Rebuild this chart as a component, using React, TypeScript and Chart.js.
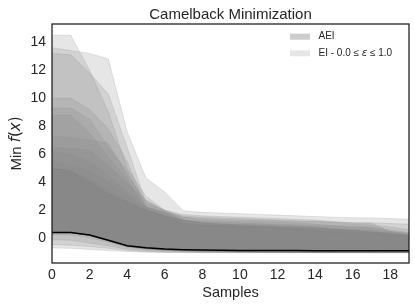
import React, { useEffect, useRef } from "react";
import { Chart, registerables } from "chart.js";

Chart.register(...registerables);

// ---------- data ----------
const samples = [0, 1, 2, 3, 4, 5, 6, 7, 8, 9, 10, 11, 12, 13, 14, 15, 16, 17, 18, 19];
const xTicks = [0, 2, 4, 6, 8, 10, 12, 14, 16, 18];
const yTicks = [0, 2, 4, 6, 8, 10, 12, 14];
const epsilons = ["0.0", "0.1", "0.2", "0.3", "0.4", "0.5", "0.6", "0.7", "0.8", "0.9", "1.0"];

// AEI: best value (black line) and upper envelope
const aeiMin = [0.4, 0.4, 0.23, -0.15, -0.53, -0.68, -0.77, -0.82, -0.85, -0.86, -0.87, -0.87, -0.87, -0.88, -0.9, -0.9, -0.9, -0.9, -0.9, -0.9];
const aeiMax = [5.0, 4.8, 4.0, 3.2, 2.6, 2.0, 1.6, 1.3, 1.1, 1.0, 0.95, 0.9, 0.85, 0.8, 0.75, 0.65, 0.55, 0.45, 0.35, 0.2];

// EI envelopes, one per epsilon
const ei00Max = [14.5, 14.5, 12.0, 9.0, 5.0, 3.0, 2.0, 1.5, 1.4, 1.35, 1.3, 1.3, 1.25, 1.2, 1.2, 1.15, 1.1, 1.1, 1.05, 1.0];
const ei00Min = [0.4, 0.4, 0.23, -0.15, -0.55, -0.72, -0.82, -0.87, -0.9, -0.92, -0.94, -0.95, -0.96, -0.97, -0.98, -1.0, -1.0, -1.0, -1.0, -1.0];
const ei01Max = [13.6, 13.4, 13.2, 12.8, 7.6, 4.3, 3.3, 1.95, 1.85, 1.8, 1.75, 1.7, 1.65, 1.6, 1.55, 1.5, 1.47, 1.45, 1.4, 1.36];
const ei01Min = [0.25, 0.25, 0.05, -0.3, -0.65, -0.8, -0.88, -0.92, -0.95, -0.97, -0.98, -1.0, -1.0, -1.01, -1.02, -1.02, -1.02, -1.03, -1.03, -1.03];
const ei02Max = [13.2, 13.1, 11.8, 10.3, 6.5, 2.5, 2.0, 1.7, 1.6, 1.55, 1.5, 1.45, 1.4, 1.35, 1.3, 1.2, 1.1, 1.07, 0.47, 0.35];
const ei02Min = [0.4, 0.4, 0.22, -0.18, -0.56, -0.73, -0.83, -0.88, -0.91, -0.93, -0.95, -0.96, -0.97, -0.98, -0.99, -1.0, -1.0, -1.01, -1.01, -1.01];
const ei03Max = [10.0, 10.0, 9.2, 7.8, 5.5, 2.2, 1.9, 1.6, 1.5, 1.45, 1.4, 1.35, 1.3, 1.25, 1.2, 1.1, 1.0, 0.95, 0.8, 0.6];
const ei03Min = [0.4, 0.4, 0.2, -0.2, -0.58, -0.75, -0.84, -0.89, -0.92, -0.94, -0.96, -0.97, -0.98, -0.99, -1.0, -1.0, -1.01, -1.01, -1.02, -1.02];
const ei04Max = [9.3, 9.3, 8.5, 6.5, 4.8, 2.2, 1.8, 1.5, 1.3, 1.25, 1.2, 1.2, 1.15, 1.1, 1.0, 0.9, 0.85, 0.8, 0.6, 0.4];
const ei04Min = [0.4, 0.4, 0.23, -0.14, -0.54, -0.7, -0.8, -0.86, -0.89, -0.91, -0.93, -0.94, -0.95, -0.96, -0.97, -0.98, -0.99, -1.0, -1.0, -1.0];
const ei05Max = [8.8, 8.8, 7.5, 5.8, 4.2, 2.0, 1.6, 1.3, 1.2, 1.15, 1.1, 1.05, 1.0, 0.95, 0.9, 0.85, 0.8, 0.75, 0.5, 0.3];
const ei05Min = [-0.1, -0.15, -0.35, -0.55, -0.78, -0.88, -0.94, -0.97, -1.0, -1.01, -1.02, -1.02, -1.03, -1.03, -1.03, -1.03, -1.03, -1.03, -1.03, -1.03];
const ei06Max = [7.3, 7.2, 7.0, 6.8, 4.5, 2.7, 2.0, 1.3, 1.1, 1.05, 1.0, 1.0, 0.95, 0.9, 0.8, 0.7, 0.65, 0.6, 0.45, 0.25];
const ei06Min = [0.4, 0.4, 0.21, -0.2, -0.6, -0.76, -0.85, -0.9, -0.93, -0.95, -0.96, -0.97, -0.98, -0.99, -1.0, -1.01, -1.01, -1.02, -1.02, -1.02];
const ei07Max = [6.5, 6.4, 6.3, 5.2, 3.9, 2.7, 1.9, 1.2, 1.0, 0.95, 0.9, 0.85, 0.8, 0.75, 0.7, 0.6, 0.55, 0.5, 0.35, 0.2];
const ei07Min = [-0.45, -0.5, -0.6, -0.72, -0.88, -0.95, -1.0, -1.01, -1.02, -1.03, -1.03, -1.03, -1.03, -1.03, -1.03, -1.03, -1.03, -1.03, -1.03, -1.03];
const ei08Max = [6.2, 6.0, 5.5, 4.5, 3.3, 2.3, 1.8, 1.1, 0.95, 0.9, 0.85, 0.8, 0.75, 0.7, 0.6, 0.5, 0.45, 0.4, 0.3, 0.15];
const ei08Min = [0.4, 0.4, 0.23, -0.16, -0.55, -0.71, -0.81, -0.86, -0.89, -0.91, -0.93, -0.95, -0.96, -0.97, -0.98, -0.99, -1.0, -1.0, -1.0, -1.0];
const ei09Max = [5.5, 5.2, 4.8, 4.0, 3.0, 2.2, 1.6, 1.0, 0.9, 0.85, 0.8, 0.75, 0.7, 0.65, 0.55, 0.45, 0.4, 0.35, 0.25, 0.1];
const ei09Min = [-0.7, -0.72, -0.8, -0.88, -0.95, -1.0, -1.02, -1.03, -1.03, -1.03, -1.03, -1.03, -1.03, -1.03, -1.03, -1.03, -1.03, -1.03, -1.03, -1.03];
const ei10Max = [5.0, 4.8, 4.2, 3.5, 2.6, 2.0, 1.5, 1.0, 0.9, 0.85, 0.8, 0.75, 0.7, 0.6, 0.5, 0.4, 0.35, 0.3, 0.2, 0.1];
const ei10Min = [0.4, 0.4, 0.22, -0.17, -0.57, -0.74, -0.83, -0.88, -0.91, -0.93, -0.95, -0.96, -0.97, -0.98, -0.99, -1.0, -1.0, -1.0, -1.01, -1.01];

const eiMaxes = [ei00Max, ei01Max, ei02Max, ei03Max, ei04Max, ei05Max, ei06Max, ei07Max, ei08Max, ei09Max, ei10Max];
const eiMins = [ei00Min, ei01Min, ei02Min, ei03Min, ei04Min, ei05Min, ei06Min, ei07Min, ei08Min, ei09Min, ei10Min];

// ---------- styling ----------
const TEXT = "#262626";
const SANS = "'Liberation Sans', Arial, sans-serif";
const MATH = "'DejaVu Sans', sans-serif";
const GRAY = "128,128,128";
const EI_ALPHA = 0.2;
const AEI_ALPHA = 0.4;

const pts = (arr: number[]) => arr.map((y, i) => ({ x: samples[i], y }));

type Run = { text: string; font: string };
function runsWidth(ctx: CanvasRenderingContext2D, runs: Run[]) {
  let w = 0;
  for (const r of runs) {
    ctx.font = r.font;
    w += ctx.measureText(r.text).width;
  }
  return w;
}
function drawRuns(ctx: CanvasRenderingContext2D, runs: Run[], x: number, y: number) {
  let cx = x;
  for (const r of runs) {
    ctx.font = r.font;
    ctx.fillText(r.text, cx, y);
    cx += ctx.measureText(r.text).width;
  }
}

const decorPlugin = {
  id: "decor",
  afterDraw(chart: any) {
    const { ctx, chartArea } = chart;
    const { left, right, top, bottom } = chartArea;
    ctx.save();
    // frame
    ctx.strokeStyle = "#1a1a1a";
    ctx.lineWidth = 1.25;
    ctx.strokeRect(left, top, right - left, bottom - top);

    // title
    ctx.fillStyle = TEXT;
    ctx.textAlign = "center";
    ctx.textBaseline = "alphabetic";
    ctx.font = `15px ${SANS}`;
    ctx.fillText("Camelback Minimization", (left + right) / 2, 19);

    // y title with math italic
    const yRuns: Run[] = [
      { text: "Min ", font: `15px ${SANS}` },
      { text: "f", font: `italic 15px ${MATH}` },
      { text: "(", font: `15px ${MATH}` },
      { text: "x", font: `italic 15px ${MATH}` },
      { text: ")", font: `15px ${MATH}` },
    ];
    ctx.save();
    ctx.translate(16.5, (top + bottom) / 2);
    ctx.rotate(-Math.PI / 2);
    ctx.textAlign = "left";
    ctx.textBaseline = "middle";
    const w = runsWidth(ctx, yRuns);
    drawRuns(ctx, yRuns, -w / 2, 0);
    ctx.restore();

    // legend
    const px = right - 119;
    const tx = right - 90.5;
    ctx.textAlign = "left";
    ctx.textBaseline = "middle";
    ctx.fillStyle = `rgba(${GRAY},${AEI_ALPHA})`;
    ctx.fillRect(px, top + 9.7, 20, 6);
    ctx.fillStyle = TEXT;
    drawRuns(ctx, [{ text: "AEI", font: `10px ${SANS}` }], tx, top + 12.7);
    ctx.fillStyle = `rgba(${GRAY},${EI_ALPHA})`;
    ctx.fillRect(px, top + 26.3, 20, 6);
    ctx.fillStyle = TEXT;
    drawRuns(
      ctx,
      [
        { text: `EI - ${epsilons[0]} ≤ `, font: `10px ${SANS}` },
        { text: "ε", font: `italic 10px ${MATH}` },
        { text: ` ≤ ${epsilons[epsilons.length - 1]}`, font: `10px ${SANS}` },
      ],
      tx,
      top + 29.3
    );
    ctx.restore();
  },
};

function buildDatasets() {
  const ds: any[] = [];
  ds.push({
    label: "AEI best",
    data: pts(aeiMin),
    borderColor: "#000000",
    borderWidth: 1.5,
    fill: false,
    pointRadius: 0,
  });
  const bands: { min: number[]; max: number[]; alpha: number }[] = [];
  bands.push({ min: aeiMin, max: aeiMax, alpha: AEI_ALPHA });
  for (let i = 0; i < eiMaxes.length; i++) {
    bands.push({ min: eiMins[i], max: eiMaxes[i], alpha: EI_ALPHA });
  }
  for (const b of bands) {
    const c = `rgba(${GRAY},${b.alpha})`;
    ds.push({ data: pts(b.min), borderColor: c, borderWidth: 1, fill: false, pointRadius: 0 });
    ds.push({ data: pts(b.max), borderColor: c, borderWidth: 1, backgroundColor: c, fill: "-1", pointRadius: 0 });
  }
  return ds;
}

export default function App() {
  const ref = useRef<HTMLCanvasElement | null>(null);
  useEffect(() => {
    document.body.style.margin = "0";
    const canvas = ref.current;
    if (!canvas) return;
    const chart = new Chart(canvas, {
      type: "line",
      data: { datasets: buildDatasets() },
      options: {
        responsive: false,
        animation: false,
        devicePixelRatio: 1,
        layout: { padding: { top: 24, right: 6, left: 0, bottom: 0 } },
        plugins: {
          legend: { display: false },
          tooltip: { enabled: false },
          title: { display: false },
        },
        elements: { line: { tension: 0 } },
        scales: {
          x: {
            type: "linear",
            min: 0,
            max: 19,
            grid: { display: false, drawTicks: false },
            border: { display: false },
            afterBuildTicks: (s: any) => {
              s.ticks = xTicks.map((v) => ({ value: v }));
            },
            afterFit: (s: any) => {
              s.height = 45;
            },
            ticks: { padding: 4, color: TEXT, font: { family: SANS, size: 14 }, maxRotation: 0 },
            title: {
              display: true,
              text: "Samples",
              color: TEXT,
              font: { family: SANS, size: 14.5 },
              padding: { top: 0, bottom: 6 },
            },
          },
          y: {
            type: "linear",
            min: -1.77,
            max: 15.3,
            grid: { display: false, drawTicks: false },
            border: { display: false },
            afterBuildTicks: (s: any) => {
              s.ticks = yTicks.map((v) => ({ value: v }));
            },
            afterFit: (s: any) => {
              s.width = 52;
            },
            ticks: { padding: 6, color: TEXT, font: { family: SANS, size: 14 } },
          },
        },
      },
      plugins: [decorPlugin],
    });
    return () => chart.destroy();
  }, []);
  return <canvas ref={ref} width={415} height={308} style={{ display: "block" }} />;
}
